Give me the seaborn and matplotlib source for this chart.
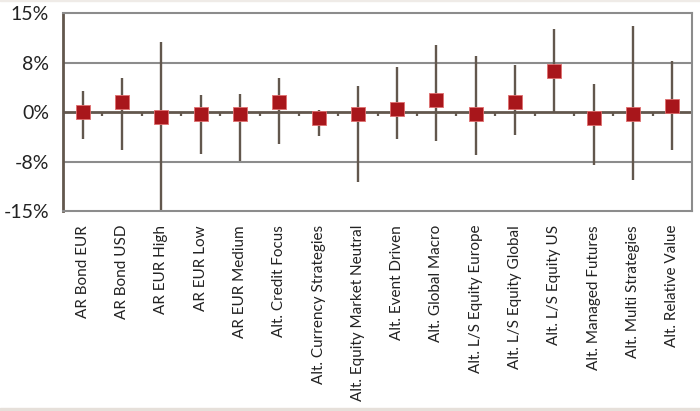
import numpy as np
import pandas as pd
import matplotlib
matplotlib.use("Agg")
import matplotlib.pyplot as plt
from matplotlib.patches import Rectangle
import seaborn as sns

# ==========================
# DATA
# ==========================
CATEGORIES = [
    "AR Bond EUR", "AR Bond USD", "AR EUR High", "AR EUR Low", "AR EUR Medium",
    "Alt. Credit Focus", "Alt. Currency Strategies", "Alt. Equity Market Neutral",
    "Alt. Event Driven", "Alt. Global Macro", "Alt. L/S Equity Europe",
    "Alt. L/S Equity Global", "Alt. L/S Equity US", "Alt. Managed Futures",
    "Alt. Multi Strategies", "Alt. Relative Value",
]
MID = [0.0, 1.5, -0.7, -0.35, -0.35, 1.5, -0.85, -0.35, 0.55, 1.8, -0.35, 1.5, 6.3, -0.85, -0.35, 1.0]
HIGH = [3.2, 5.2, 10.6, 2.6, 2.8, 5.2, 0.4, 3.9, 6.85, 10.2, 8.45, 7.1, 12.6, 4.2, 13.0, 7.7]
LOW = [-4.1, -5.7, -15.0, -6.4, -7.4, -4.9, -3.6, -10.65, -4.1, -4.4, -6.5, -3.4, 0.1, -8.0, -10.25, -5.8]

Y_TICKS = [-15, -7.5, 0, 7.5, 15]
Y_LABELS = ["-15%", "-8%", "0%", "8%", "15%"]

# ==========================
# STYLE
# ==========================
BROWN = "#62574d"
GRID = "#8c8c8c"
RED = "#a8161b"

sns.set_style("white")
plt.rcParams["font.family"] = ["Lato", "DejaVu Sans"]

df = pd.DataFrame({"category": CATEGORIES, "mid": MID, "low": LOW, "high": HIGH})

fig, ax = plt.subplots(figsize=(7.0, 4.11), dpi=100)
fig.subplots_adjust(left=0.09, right=0.9886, top=0.9676, bottom=0.4866)

# background strips
fig.patches.append(Rectangle((0, 0), 1, 3 / 411, transform=fig.transFigure,
                             color="#e6e0da", zorder=-10))
fig.patches.append(Rectangle((0, 1 - 1.5 / 411), 1, 1.5 / 411, transform=fig.transFigure,
                             color="#efebe7", zorder=-10))

# ==========================
# PLOT
# ==========================
pos = np.arange(len(CATEGORIES))

ax.axhline(0, color=BROWN, lw=2, zorder=1)
ax.vlines(pos[:-1] + 0.5, -0.65, 0, color=BROWN, lw=1.6, zorder=1)
ax.vlines(pos, df["low"], df["high"], color=BROWN, lw=1.7, zorder=2)

sns.stripplot(
    data=df, x="category", y="mid", jitter=False, marker="s", size=10.5,
    color=RED, edgecolor="#e07070", linewidth=0.6, zorder=3, ax=ax
)

# ==========================
# AXES
# ==========================
ax.set_xlim(-0.5, len(CATEGORIES) - 0.5)
ax.set_ylim(-15, 15)
ax.set_yticks(Y_TICKS)
ax.set_yticklabels(Y_LABELS)
for y in [-7.5, 7.5]:
    ax.axhline(y, color=GRID, lw=1.5, zorder=0)

ax.set_xlabel("")
ax.set_ylabel("")
ax.set_xticks(pos)
ax.set_xticklabels(CATEGORIES, rotation=90, ha="center", va="top", fontsize=11, color="#222222")
ax.tick_params(axis="x", length=0, pad=10)
ax.tick_params(axis="y", length=5, width=1.5, color=BROWN, direction="out",
               labelsize=14, labelcolor="#222222", pad=5)

for side in ["top", "right", "bottom"]:
    ax.spines[side].set_color(GRID)
    ax.spines[side].set_linewidth(1.5)
ax.spines["left"].set_color(BROWN)
ax.spines["left"].set_linewidth(2)

plt.savefig("out.png", dpi=100)
